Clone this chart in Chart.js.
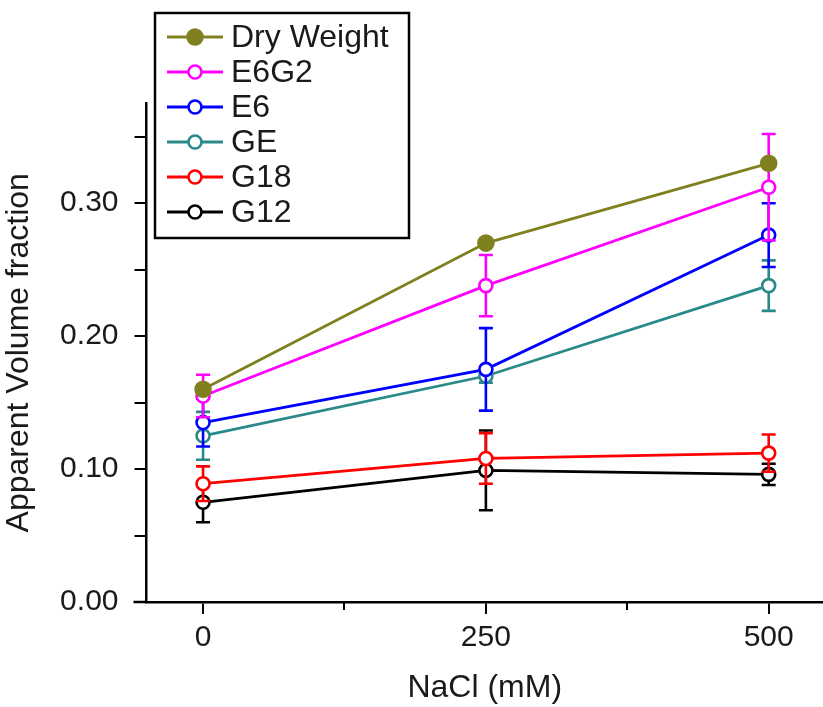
<!DOCTYPE html>
<html>
<head>
<meta charset="utf-8">
<script src="https://cdn.jsdelivr.net/npm/chart.js@4.4.1/dist/chart.umd.min.js"></script>
<style>
  body { margin: 0; background: #fff; }
  #wrap { width: 823px; height: 707px; }
</style>
</head>
<body>
<div id="wrap"><canvas id="chart" width="823" height="707"></canvas></div>
<script>
// NaCl concentration (mM)
const doses = [0, 250, 500];
const xTickValues = [0, 125, 250, 375, 500];
const xTickLabels = ['0', '250', '500'];
const yTickLabels = ['0.00', '0.10', '0.20', '0.30'];

const seriesNames = ['Dry Weight', 'E6G2', 'E6', 'GE', 'G18', 'G12'];
const seriesColors = ['#808020', '#ff00ff', '#0000ff', '#2a8a8a', '#ff0000', '#000000'];

const dryWeight = [0.160, 0.270, 0.330];
const e6g2 = [0.155, 0.238, 0.312];
const e6 = [0.135, 0.175, 0.276];
const ge = [0.125, 0.170, 0.238];
const g18 = [0.089, 0.108, 0.112];
const g12 = [0.075, 0.099, 0.096];

const dryWeightErr = [0, 0, 0];
const e6g2Err = [0.016, 0.023, 0.040];
const e6Err = [0.018, 0.031, 0.024];
const geErr = [0.018, 0.005, 0.019];
const g18Err = [0.013, 0.019, 0.014];
const g12Err = [0.015, 0.030, 0.008];

const allValues = [dryWeight, e6g2, e6, ge, g18, g12];
const allErrors = [dryWeightErr, e6g2Err, e6Err, geErr, g18Err, g12Err];

const FONT = "'Liberation Sans', Arial, sans-serif";
const TEXT = '#1a1a1a';

const isMajorX = v => xTickLabels.includes(String(v));

const datasets = seriesNames.map((name, i) => ({
    label: name,
    data: doses.map((d, j) => ({x: d, y: allValues[i][j]})),
    errors: allErrors[i],
    borderColor: seriesColors[i],
    backgroundColor: seriesColors[i],
    pointBackgroundColor: i === 0 ? seriesColors[i] : '#fff',
    pointBorderColor: seriesColors[i],
    pointRadius: i === 0 ? 7.5 : 6.5,
    pointBorderWidth: 2.6,
    borderWidth: 2.8,
    tension: 0,
    fill: false
}))

// error bars, drawn just before each dataset so its own marker sits on top
const errorBars = {
    id: 'errorBars',
    beforeDatasetDraw(chart, args) {
        const ds = chart.data.datasets[args.index]
        const xs = chart.scales.x, ys = chart.scales.y
        const ctx = chart.ctx
        ctx.save()
        ctx.strokeStyle = ds.borderColor
        ctx.lineWidth = 2.6
        ds.data.forEach((p, j) => {
            const e = ds.errors[j]
            if (!e) return
            const px = xs.getPixelForValue(p.x)
            const top = ys.getPixelForValue(p.y + e)
            const bot = ys.getPixelForValue(p.y - e)
            ctx.beginPath()
            ctx.moveTo(px, top); ctx.lineTo(px, bot)
            ctx.moveTo(px - 7, top); ctx.lineTo(px + 7, top)
            ctx.moveTo(px - 7, bot); ctx.lineTo(px + 7, bot)
            ctx.stroke()
        })
        ctx.restore()
    }
}

// boxed legend in the Origin style, short minor x ticks and the x axis overhang
const boxLegend = {
    id: 'boxLegend',
    afterDraw(chart) {
        const ctx = chart.ctx
        const area = chart.chartArea
        const xs = chart.scales.x
        ctx.save()
        ctx.strokeStyle = '#000'
        ctx.lineWidth = 2.5
        ctx.beginPath()
        ctx.moveTo(area.left - 13, area.bottom)
        ctx.lineTo(area.left, area.bottom)
        ctx.stroke()

        ctx.lineWidth = 2
        xTickValues.filter(v => !isMajorX(v)).forEach(v => {
            const px = Math.round(xs.getPixelForValue(v))
            ctx.beginPath()
            ctx.moveTo(px, area.bottom)
            ctx.lineTo(px, area.bottom + 8)
            ctx.stroke()
        })

        const bx = 155, by = 13, bw = 254, bh = 225
        ctx.lineWidth = 2.5
        ctx.fillStyle = '#fff'
        ctx.fillRect(bx, by, bw, bh)
        ctx.strokeRect(bx, by, bw, bh)

        ctx.font = '32px ' + FONT
        ctx.textBaseline = 'middle'
        chart.data.datasets.forEach((ds, i) => {
            const y = 37 + i * 35
            ctx.strokeStyle = ds.borderColor
            ctx.lineWidth = 2.8
            ctx.beginPath()
            ctx.moveTo(167, y); ctx.lineTo(223, y)
            ctx.stroke()
            ctx.beginPath()
            ctx.arc(195, y, ds.pointRadius, 0, Math.PI * 2)
            ctx.fillStyle = ds.pointBackgroundColor
            ctx.fill()
            ctx.lineWidth = 2.6
            ctx.stroke()
            ctx.fillStyle = TEXT
            ctx.fillText(ds.label, 231, y + 1)
        })
        ctx.restore()
    }
}

new Chart(document.getElementById('chart'), {
    type: 'line',
    data: {datasets: datasets},
    plugins: [errorBars, boxLegend],
    options: {
        responsive: false,
        animation: false,
        devicePixelRatio: 1,
        layout: {autoPadding: false, padding: {top: 103.5, right: 0, left: 0, bottom: 0}},
        plugins: {legend: {display: false}, tooltip: {enabled: false}},
        scales: {
            x: {
                type: 'linear',
                min: -50,
                max: 548,
                afterBuildTicks: s => { s.ticks = xTickValues.map(v => ({value: v})) },
                afterFit: s => { s.height = 105 },
                ticks: {
                    autoSkip: false,
                    maxRotation: 0,
                    padding: 6,
                    color: TEXT,
                    font: {family: FONT, size: 30},
                    callback: v => isMajorX(v) ? String(v) : ''
                },
                grid: {
                    drawOnChartArea: false, drawTicks: true, tickLength: 12, lineWidth: 2,
                    tickColor: c => c.tick && isMajorX(c.tick.value) ? '#000' : 'rgba(0,0,0,0)'
                },
                border: {display: true, color: '#000', width: 2.5},
                title: {display: true, text: 'NaCl (mM)', color: TEXT, font: {family: FONT, size: 32}, padding: {top: 10, bottom: 0}}
            },
            y: {
                min: 0,
                max: 0.375,
                afterBuildTicks: s => {
                    const t = []
                    for (let k = 0; k <= 7; k++) t.push({value: k * 0.05})
                    s.ticks = t
                },
                afterFit: s => { s.width = 146.5 },
                ticks: {
                    autoSkip: false,
                    padding: 16,
                    color: TEXT,
                    font: {family: FONT, size: 30},
                    callback: (v, i) => i % 2 === 0 ? yTickLabels[i / 2] : ''
                },
                grid: {drawOnChartArea: false, drawTicks: true, tickLength: 12, color: '#000', lineWidth: 2},
                border: {display: true, color: '#000', width: 2.5},
                title: {display: true, text: 'Apparent Volume fraction', color: TEXT, font: {family: FONT, size: 32}, padding: {top: 0, bottom: 0}}
            }
        }
    }
})
</script>
</body>
</html>
